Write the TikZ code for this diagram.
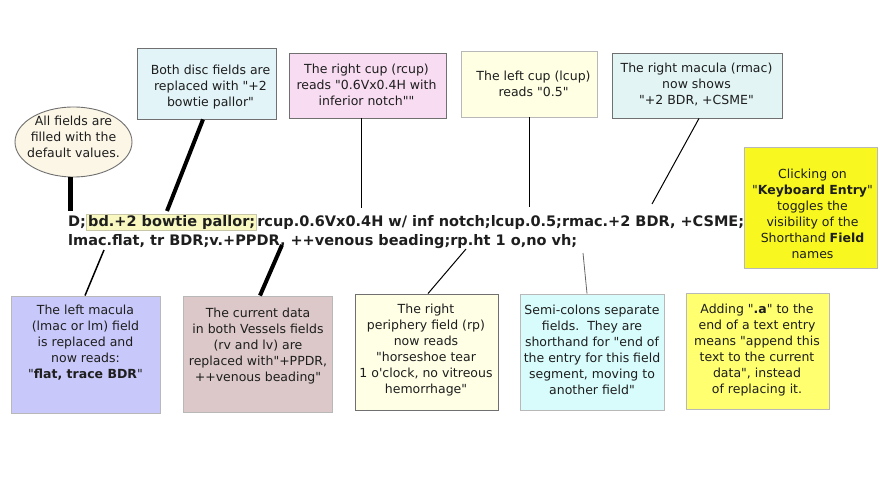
\documentclass[tikz,border=0pt]{standalone}
\usepackage{fontspec}
\setmainfont{DejaVu Sans}[Ligatures=TeXOff]
\usetikzlibrary{shapes.geometric}
\definecolor{txtc}{HTML}{1E1E1E}
\definecolor{bordA}{HTML}{707070}
\definecolor{bordB}{HTML}{B8B8B8}
\definecolor{fEll}{HTML}{FCF6E6}
\definecolor{fDisc}{HTML}{E2F4F8}
\definecolor{fRcup}{HTML}{F8DCF2}
\definecolor{fLcup}{HTML}{FFFFE4}
\definecolor{fRmac}{HTML}{E2F4F4}
\definecolor{fKey}{HTML}{F8F820}
\definecolor{fLmac}{HTML}{C8C8FA}
\definecolor{fVes}{HTML}{DCC8C8}
\definecolor{fRp}{HTML}{FFFFE6}
\definecolor{fSemi}{HTML}{D8FCFC}
\definecolor{fAdd}{HTML}{FFFF70}
\definecolor{fHl}{HTML}{F8F8C0}
\definecolor{bHl}{HTML}{C8C8A8}
\newcommand\boxfont{\fontsize{12.5}{16}\selectfont}
\newcommand\mainfont{\fontsize{14.5}{20}\selectfont\bfseries}
\tikzset{
  notebox/.style={rectangle, inner sep=0pt, line width=0.9pt},
  notetext/.style={align=center, inner sep=0pt, text=txtc, font=\boxfont},
  maintext/.style={inner sep=0pt, text=txtc, font=\mainfont, anchor=base west},
  thinline/.style={line width=1pt, black},
  thickline/.style={line width=4pt, black},
}
\begin{document}
\begin{tikzpicture}[x=1pt,y=-1pt]
\useasboundingbox[fill=white] (0,0) rectangle (883,486);

% main text
\node[maintext] (d) at (68,227) {D;};
\node[maintext, fill=fHl, draw=bHl, line width=0.8pt, inner xsep=1.5pt, inner ysep=1.5pt, text height=11.5pt, text depth=1.5pt] (hl) at (d.base east) {bd.+2 bowtie pallor;};
\node[maintext] (rest) at (hl.base east) {rcup.0.6Vx0.4H w/ inf notch;lcup.0.5;rmac.+2 BDR, +CSME;};
\node[maintext] (line2) at (68,246) {lmac.flat, tr BDR;v.+PPDR, ++venous beading;rp.ht 1 o,no vh;};

% ellipse
\node[ellipse, draw=bordA, fill=fEll, line width=0.9pt, minimum width=117pt, minimum height=70pt, inner sep=0pt] (ell) at (73.5,142) {};
\node[notetext] (tell) at (73.5,137) {All fields are\\filled with the\\default values.};

% top boxes
\node[notebox, draw=bordA, fill=fDisc, minimum width=139pt, minimum height=71pt] (b2) at (206.5,83.5) {};
\node[notetext] (t2) at (210.5,87) {Both disc fields are\\replaced with "+2\\bowtie pallor"};

\node[notebox, draw=bordA, fill=fRcup, minimum width=157pt, minimum height=65pt] (b3) at (367.5,85.5) {};
\node[notetext] (t3) at (366.5,85) {The right cup (rcup)\\reads "0.6Vx0.4H with\\inferior notch""};

\node[notebox, draw=bordB, fill=fLcup, minimum width=136pt, minimum height=66pt] (b4) at (529,84) {};
\node[notetext] (t4) at (533.5,84) {The left cup (lcup)\\reads "0.5"};

\node[notebox, draw=bordA, fill=fRmac, minimum width=170pt, minimum height=65pt] (b5) at (697,85.5) {};
\node[notetext] (t5) at (696.5,84) {The right macula (rmac)\\now shows\\"+2 BDR, +CSME"};

\node[notebox, draw=bordB, fill=fKey, minimum width=133pt, minimum height=121pt] (b6) at (810.5,207.5) {};
\node[notetext] (t6) at (812.5,214) {Clicking on\\"\textbf{Keyboard Entry}"\\toggles the\\visibility of the\\Shorthand \textbf{Field}\\names};

% bottom boxes
\node[notebox, draw=bordB, fill=fLmac, minimum width=149pt, minimum height=117pt] (b7) at (85.5,354.5) {};
\node[notetext] (t7) at (85.5,343) {The left macula\\(lmac or lm) field\\is replaced and\\now reads:\\"\textbf{flat, trace BDR}"};

\node[notebox, draw=bordB, fill=fVes, minimum width=149pt, minimum height=116pt] (b8) at (257.5,354) {};
\node[notetext] (t8) at (258,346) {The current data\\in both Vessels fields\\(rv and lv) are\\replaced with"+PPDR,\\++venous beading"};

\node[notebox, draw=bordA, fill=fRp, minimum width=143pt, minimum height=116pt] (b9) at (426.5,352) {};
\node[notetext] (t9) at (426,350) {The right\\periphery field (rp)\\now reads\\"horseshoe tear\\1 o'clock, no vitreous\\hemorrhage"};

\node[notebox, draw=bordB, fill=fSemi, minimum width=144pt, minimum height=116pt] (b10) at (592,352) {};
\node[notetext] (t10) at (592,350) {Semi-colons separate\\fields.\ \ They are\\shorthand for "end of\\the entry for this field\\segment, moving to\\another field"};

\node[notebox, draw=bordB, fill=fAdd, minimum width=143pt, minimum height=116pt] (b11) at (757.5,351) {};
\node[notetext] (t11) at (757,350) {Adding "\textbf{.a}" to the\\end of a text entry\\means "append this\\text to the current\\data", instead\\of replacing it.};

% connector ends
\coordinate (e1) at (70,211);
\coordinate (e2) at (167,211);
\coordinate (e3) at (361,208);
\coordinate (e4) at (529,207);
\coordinate (e5) at (652,204);
\coordinate (e7) at (104,250);
\coordinate (e8) at (282,245);
\coordinate (e9) at (466,249);
\coordinate (e10) at (583,253);

\draw[line width=5pt] ([xshift=-3.5pt]ell.south) -- (e1);
\draw[thickline] ([xshift=-3.5pt]b2.south) -- (e2);
\draw[thinline] ([xshift=-6.5pt]b3.south) -- (e3);
\draw[thinline] (b4.south) -- (e4);
\draw[thinline] ([xshift=2pt]b5.south) -- (e5);
\draw[thinline, line width=1.5pt] (e7) -- ([xshift=-0.5pt]b7.north);
\draw[thickline] (e8) -- ([xshift=2.5pt]b8.north);
\draw[thinline] (e9) -- ([xshift=1.5pt]b9.north);
\draw[thinline, line width=0.8pt, black!60] (e10) -- ([xshift=-5pt]b10.north);
\end{tikzpicture}
\end{document}
